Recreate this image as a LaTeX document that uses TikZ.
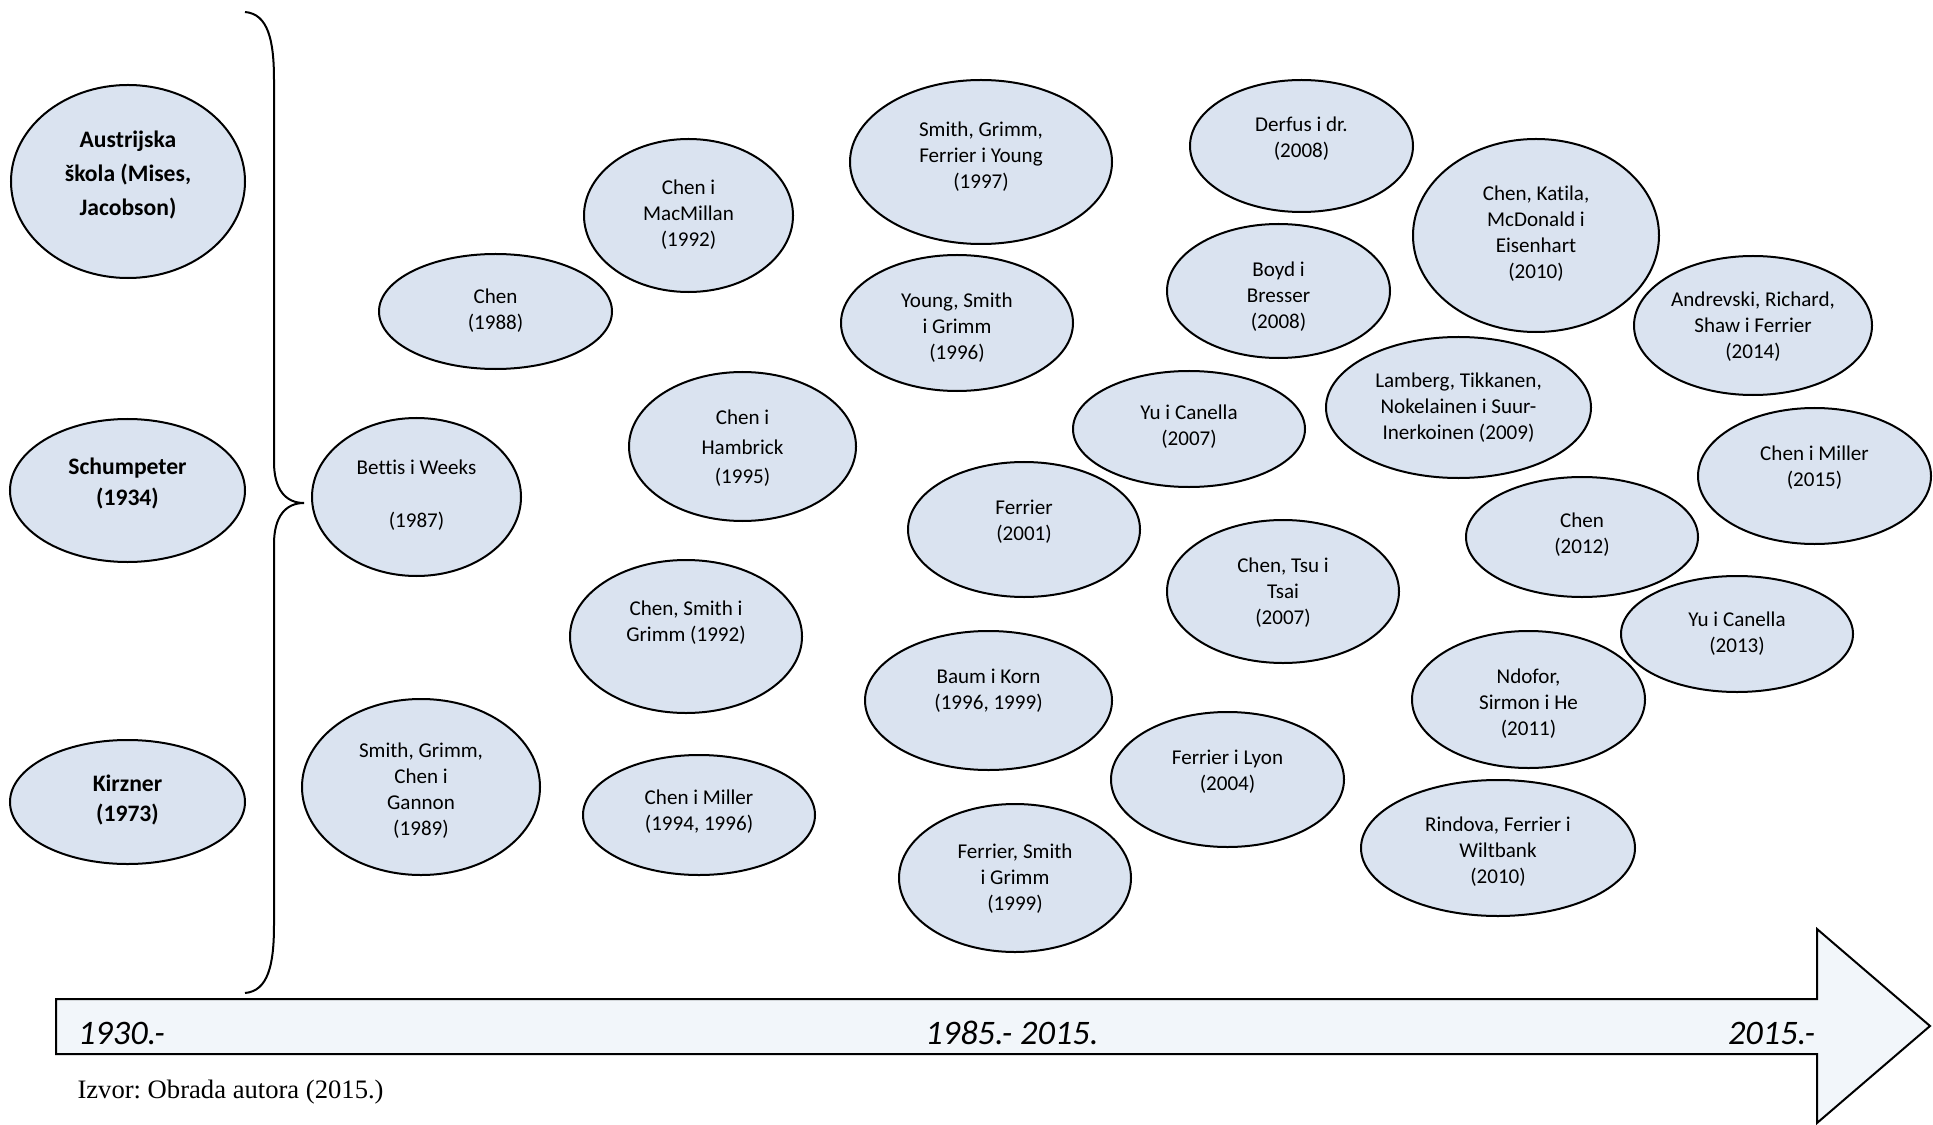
\documentclass[tikz,border=0pt]{standalone}
\usepackage{fontspec}
\setmainfont{Carlito}[Ligatures={NoCommon}]
\newfontfamily\izfont{Liberation Serif}
\usetikzlibrary{shapes.geometric}
\definecolor{bubfill}{HTML}{DAE3F0}
\definecolor{arrfill}{HTML}{F2F6FA}
\newcommand\Bub[5]{\node[bub, minimum width={0.8pt*#4}, minimum height={0.8pt*#5}] (#1) at (#2,#3) {};}
\frenchspacing
\begin{document}
\begin{tikzpicture}[x=0.4pt,y=-0.4pt,
  bub/.style={ellipse, draw=black, line width=0.8pt, fill=bubfill, inner sep=0pt},
  txt/.style={align=center, inner sep=0pt, yshift=-0.8pt, font=\fontsize{8.43}{10.4}\selectfont},
  btxt/.style={align=center, inner sep=0pt, yshift=-0.8pt, font=\bfseries\fontsize{9.45}{12.4}\selectfont},
  yr/.style={inner sep=0pt, font=\itshape\fontsize{13.75}{16}\selectfont},
  brace/.style={draw=black, line width=0.8pt},
  tline/.style={draw=black, line width=0.8pt, fill=arrfill, line join=miter}]
\useasboundingbox (0,0) rectangle (1933,1125);

% timeline arrow
\path[tline] (56,999) -- (1817,999) -- (1817,929) -- (1930,1026) -- (1817,1123) -- (1817,1054) -- (56,1054) -- cycle;
\node[yr] (y1) at (121.5,1033) {1930.-};
\node[yr] (y2) at (1012,1033) {1985.- 2015.};
\node[yr] (y3) at (1771.5,1033) {2015.-};
\node[inner sep=0pt, anchor=west, font=\izfont\fontsize{10.65}{12}\selectfont] (izvor) at (77,1092) {Izvor: Obrada autora (2015.)};

% brace
\path[brace] (245,12) .. controls (268,14) and (274,40) .. (274,80) -- (274,462)
  .. controls (274,490) and (286,503) .. (304,503)
  .. controls (286,503) and (274,516) .. (274,544) -- (274,925)
  .. controls (274,965) and (268,991) .. (245,993);

% left column
\Bub{aus}{128}{181.5}{117}{96.5}
\node[btxt, font=\bfseries\fontsize{9.45}{13.6}\selectfont] (taus) at (128,173.5) {Austrijska\\škola (Mises,\\Jacobson)};
\Bub{sch}{127.5}{490.5}{117.5}{71.5}
\node[btxt] (tsch) at (127.5,481.5) {Schumpeter\\(1934)};
\Bub{kir}{127.5}{802}{117.5}{62}
\node[btxt, font=\bfseries\fontsize{9.45}{12}\selectfont] (tkir) at (127.5,798) {Kirzner\\(1973)};

% ellipses
\Bub{c88}{495.5}{311.5}{116.5}{57.5}
\node[txt] (tc88) at (495.5,309) {Chen\\(1988)};
\Bub{bw}{416.5}{497}{104.5}{79}
\node[txt, font=\fontsize{8.43}{10.6}\selectfont] (tbw) at (416.5,493.5) {Bettis i Weeks\\[10.6pt](1987)};
\Bub{cmm}{688.5}{215.5}{104.5}{76.5}
\node[txt] (tcmm) at (688.5,213) {Chen i\\MacMillan\\(1992)};
\Bub{ch}{742.5}{446.5}{113.5}{74.5}
\node[txt, font=\fontsize{8.43}{11.8}\selectfont] (tch) at (742.5,446.5) {Chen i\\Hambrick\\(1995)};
\Bub{csg}{686}{636.5}{116}{76.5}
\node[txt] (tcsg) at (686,620.5) {Chen, Smith i\\Grimm (1992)};
\Bub{sgcg}{421}{787}{119}{88}
\node[txt] (tsgcg) at (421,788.5) {Smith, Grimm,\\Chen i\\Gannon\\(1989)};
\Bub{cm9}{699}{815}{116}{60}
\node[txt] (tcm9) at (699,810) {Chen i Miller\\(1994, 1996)};
\Bub{sgfy}{981}{162}{131}{82}
\node[txt] (tsgfy) at (981,154.5) {Smith, Grimm,\\Ferrier i Young\\(1997)};
\Bub{ysg}{957}{323}{116}{68}
\node[txt] (tysg) at (957,326) {Young, Smith\\i Grimm\\(1996)};
\Bub{f01}{1024}{529.5}{116}{67.5}
\node[txt] (tf01) at (1024,519.5) {Ferrier\\(2001)};
\Bub{bk}{988.5}{700.5}{123.5}{69.5}
\node[txt] (tbk) at (988.5,689) {Baum i Korn\\(1996, 1999)};
\Bub{fsg}{1015}{878}{116}{74}
\node[txt] (tfsg) at (1015,877) {Ferrier, Smith\\i Grimm\\(1999)};
\Bub{der}{1301.5}{146}{111.5}{66}
\node[txt] (tder) at (1301.5,136.5) {Derfus i dr.\\(2008)};
\Bub{bb}{1278.5}{291}{111.5}{67}
\node[txt] (tbb) at (1278.5,294.5) {Boyd i\\Bresser\\(2008)};
\Bub{yc7}{1189}{429}{116}{58}
\node[txt] (tyc7) at (1189,425) {Yu i Canella\\(2007)};
\Bub{ctt}{1283}{591.5}{116}{71.5}
\node[txt] (tctt) at (1283,591) {Chen, Tsu i\\Tsai\\(2007)};
\Bub{fl}{1227.5}{779.5}{116.5}{67.5}
\node[txt] (tfl) at (1227.5,770) {Ferrier i Lyon\\(2004)};
\Bub{ckme}{1536}{235.5}{123}{96.5}
\node[txt] (tckme) at (1536,231.5) {Chen, Katila,\\McDonald i\\Eisenhart\\(2010)};
\Bub{lam}{1458.5}{407.5}{132.5}{70.5}
\node[txt] (tlam) at (1458.5,405.5) {Lamberg, Tikkanen,\\Nokelainen i Suur-\\Inerkoinen (2009)};
\Bub{andr}{1753}{325.5}{119}{69.5}
\node[txt] (tandr) at (1753,325) {Andrevski, Richard,\\Shaw i Ferrier\\(2014)};
\Bub{cm15}{1814.5}{476}{116.5}{68}
\node[txt] (tcm15) at (1814.5,466) {Chen i Miller\\(2015)};
\Bub{c12}{1582}{537}{116}{60}
\node[txt] (tc12) at (1582,533) {Chen\\(2012)};
\Bub{yc13}{1737}{634}{116}{58}
\node[txt] (tyc13) at (1737,631.5) {Yu i Canella\\(2013)};
\Bub{nsh}{1528.5}{699.5}{116.5}{68.5}
\node[txt] (tnsh) at (1528.5,702) {Ndofor,\\Sirmon i He\\(2011)};
\Bub{rfw}{1498}{848}{137}{68}
\node[txt] (trfw) at (1498,850) {Rindova, Ferrier i\\Wiltbank\\(2010)};
\end{tikzpicture}
\end{document}
